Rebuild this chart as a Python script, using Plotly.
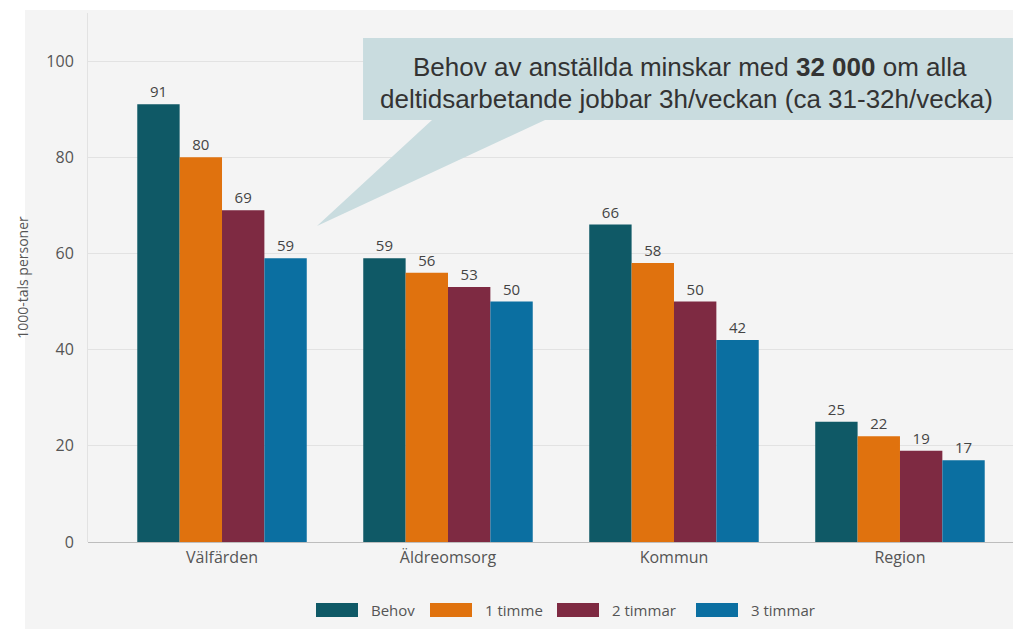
import plotly.graph_objects as go

categories = ["Välfärden", "Äldreomsorg", "Kommun", "Region"]
series_names = ["Behov", "1 timme", "2 timmar", "3 timmar"]
behov = [91, 59, 66, 25]
timme1 = [80, 56, 58, 22]
timmar2 = [69, 53, 50, 19]
timmar3 = [59, 50, 42, 17]
y_ticks = [0, 20, 40, 60, 80, 100]
colors = ["#0f5966", "#e0720e", "#7e2a42", "#0b6fa1"]

values = [behov, timme1, timmar2, timmar3]

# page has an 8px body margin; screen coords = figure coords + 8
OFF = 8
W, H = 1021 - OFF, 629 - OFF
L, R, T, B = 88 - OFF, 6, 13 - OFF, 629 - 542
PW, PH = W - L - R, H - T - B


def px(x):  # screen x -> paper
    return (x - OFF - L) / PW


def py(y):  # screen y -> paper
    return (542 - y) / PH


fig = go.Figure()
for name, vals, col in zip(series_names, values, colors):
    fig.add_trace(go.Bar(
        x=categories, y=vals, name=name, marker_color=col,
        marker_line_width=0,
        text=[str(v) for v in vals], textposition="outside",
        textfont=dict(family="Open Sans", size=15, color="#444444"),
        cliponaxis=False, showlegend=False,
    ))

shapes = []
# background panel (image has a thin white border)
shapes.append(dict(type="rect", xref="paper", yref="paper", layer="below",
                   x0=px(25), x1=px(1017), y0=py(10), y1=py(640),
                   fillcolor="#f4f4f4", line_width=0))

# callout
pts = [(363, 38), (1013, 38), (1013, 120), (545, 120), (317, 226), (432, 120), (363, 120)]
path = "M " + " L ".join(f"{px(a):.4f},{py(b):.4f}" for a, b in pts) + " Z"
shapes.append(dict(type="path", xref="paper", yref="paper", path=path,
                   fillcolor="#c9dcdf", line_width=0, layer="above"))

annotations = [
    dict(xref="paper", yref="paper", x=px(690), y=py(67), showarrow=False,
         text="Behov av anställda minskar med <b>32 000</b> om alla",
         font=dict(family="Liberation Sans", size=26, color="#333333"),
         xanchor="center", yanchor="middle"),
    dict(xref="paper", yref="paper", x=px(686), y=py(99), showarrow=False,
         text="deltidsarbetande jobbar 3h/veckan (ca 31-32h/vecka)",
         font=dict(family="Liberation Sans", size=26, color="#333333"),
         xanchor="center", yanchor="middle"),
]

# custom legend with wide swatches
leg_sw = [316, 430, 557, 696]
for i, (name, col) in enumerate(zip(series_names, colors)):
    x0 = leg_sw[i]
    shapes.append(dict(type="rect", xref="paper", yref="paper",
                       x0=px(x0), x1=px(x0 + 42), y0=py(617), y1=py(603),
                       fillcolor=col, line_width=0))
    annotations.append(dict(xref="paper", yref="paper", x=px(x0 + 53), y=py(610),
                            text=name, showarrow=False, xanchor="left", yanchor="middle",
                            font=dict(family="Open Sans", size=15, color="#555555")))

fig.update_layout(
    width=W, height=H,
    margin=dict(l=L, r=R, t=T, b=B),
    paper_bgcolor="#ffffff",
    plot_bgcolor="rgba(0,0,0,0)",
    barmode="group", bargap=0.25, bargroupgap=0,
    shapes=shapes, annotations=annotations,
    font=dict(family="Open Sans", color="#555555"),
    xaxis=dict(range=[-0.593, 3.509], showgrid=False, showline=False, ticks="",
               tickfont=dict(size=16, color="#555555"), zeroline=False,
               ticklabelstandoff=4),
    yaxis=dict(range=[0, 110], tickvals=y_ticks, showgrid=True, gridcolor="#e2e2e2",
               gridwidth=1, zeroline=True, zerolinecolor="#bdbdbd", zerolinewidth=1,
               showline=True, linecolor="#e2e2e2", linewidth=1,
               ticks="", ticklabelstandoff=10,
               tickfont=dict(size=16, color="#555555"),
               title=dict(text="1000-tals personer", standoff=14,
                          font=dict(size=14, color="#555555"))),
)

fig.write_html("out.html")
